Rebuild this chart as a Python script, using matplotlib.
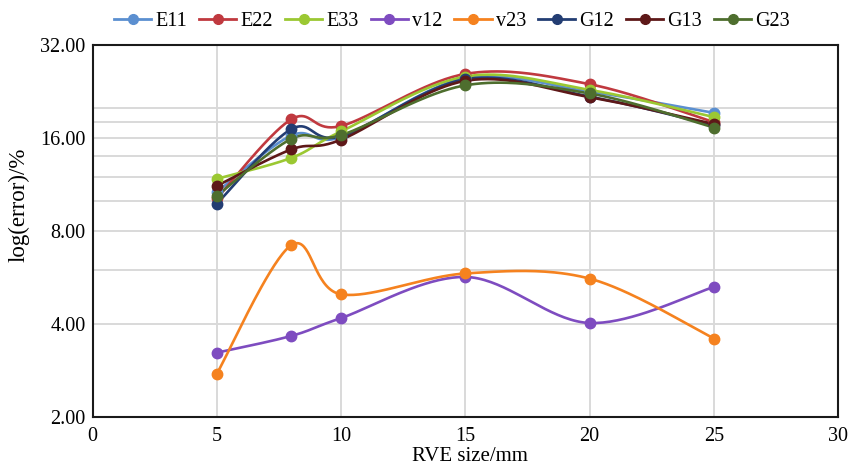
import matplotlib.pyplot as plt
import numpy as np
from matplotlib.ticker import FixedLocator, FuncFormatter, NullLocator

plt.rcParams["font.family"] = ["Liberation Serif", "DejaVu Serif"]

rve_size = [5, 8, 10, 15, 20, 25]

E11 = [10.7, 16.3, 16.1, 25.0, 22.6, 19.3]
E22 = [10.2, 18.4, 17.5, 25.8, 23.9, 18.0]
E33 = [11.8, 13.8, 16.8, 25.3, 22.9, 18.7]
v12 = [3.23, 3.66, 4.18, 5.68, 4.03, 5.27]
v23 = [2.76, 7.2, 4.99, 5.83, 5.61, 3.59]
G12 = [9.8, 17.1, 16.2, 24.8, 21.8, 17.6]
G13 = [11.2, 14.7, 15.8, 24.5, 21.7, 17.75]
G23 = [10.4, 15.9, 16.35, 23.7, 22.3, 17.3]

series = [("E11", E11, "#5b8fd0"),
          ("E22", E22, "#c0393f"),
          ("E33", E33, "#9bc832"),
          ("v12", v12, "#7e4cc0"),
          ("v23", v23, "#f5821f"),
          ("G12", G12, "#233d73"),
          ("G13", G13, "#5e1818"),
          ("G23", G23, "#4e6e2e")]

y_ticks = [2, 4, 8, 16, 32]
y_grid = [4, 6, 8, 10, 12, 14, 16, 18, 20]
x_ticks = [0, 5, 10, 15, 20, 25, 30]


def smooth(x, y, n=40):
    # Catmull-Rom bezier through the points, done in (x, log2 y)
    px = np.asarray(x, float)
    py = np.log2(np.asarray(y, float))
    px = np.concatenate([[px[0]], px, [px[-1]]])
    py = np.concatenate([[py[0]], py, [py[-1]]])
    xs, ys = [], []
    t = np.linspace(0, 1, n)
    for i in range(1, len(px) - 2):
        p0 = np.array([px[i], py[i]])
        p3 = np.array([px[i + 1], py[i + 1]])
        p1 = p0 + (p3 - np.array([px[i - 1], py[i - 1]])) / 6
        p2 = p3 - (np.array([px[i + 2], py[i + 2]]) - p0) / 6
        b = ((1 - t) ** 3)[:, None] * p0 + (3 * (1 - t) ** 2 * t)[:, None] * p1 \
            + (3 * (1 - t) * t ** 2)[:, None] * p2 + (t ** 3)[:, None] * p3
        xs.append(b[:, 0])
        ys.append(b[:, 1])
    return np.concatenate(xs), 2 ** np.concatenate(ys)


fig = plt.figure(figsize=(8.51, 4.70), dpi=100)
ax = fig.add_axes([0.1087, 0.1128, 0.8763, 0.7914])

for name, vals, col in series:
    sx, sy = smooth(rve_size, vals)
    ax.plot(sx, sy, color=col, lw=1.9, zorder=3)
    ax.plot(rve_size, vals, "o", color=col, ms=7.5, zorder=4)
    ax.plot([], [], "-o", color=col, lw=2.0, ms=7, label=name)

ax.set_yscale("log", base=2)
ax.set_ylim(2, 32)
ax.set_xlim(0, 30)
ax.yaxis.set_major_locator(FixedLocator(y_ticks))
ax.yaxis.set_minor_locator(NullLocator())
ax.yaxis.set_major_formatter(FuncFormatter(lambda v, p: "%.2f" % v))
ax.set_xticks(x_ticks)

for g in y_grid:
    ax.axhline(g, color="#d9d9d9", lw=1.4, zorder=1)
for g in x_ticks[1:-1]:
    ax.axvline(g, color="#d9d9d9", lw=1.4, zorder=1)

for s in ax.spines.values():
    s.set_linewidth(1.5)
    s.set_color("#1a1a1a")
ax.tick_params(length=0, labelsize=14.5, pad=5)
ax.tick_params(axis="x", pad=7)

ax.set_xlabel("RVE size/mm", fontsize=15)
ax.xaxis.set_label_coords(0.506, -0.082)
ax.set_ylabel("log(error)/%", fontsize=16.5)
ax.yaxis.set_label_coords(-0.085, 0.57)

ax.legend(loc="center", bbox_to_anchor=(0.482, 1.063), ncol=8, frameon=False,
          fontsize=14.5, handlelength=1.85, handletextpad=0.2, columnspacing=0.6,
          borderaxespad=0)

fig.savefig("out.png", dpi=100)
